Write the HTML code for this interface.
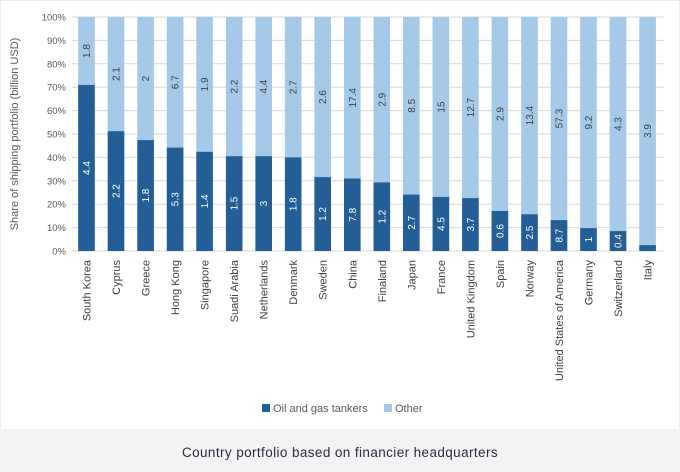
<!DOCTYPE html>
<html><head><meta charset="utf-8"><style>
html,body{margin:0;padding:0;background:#fff}
svg{display:block;font-family:"Liberation Sans",sans-serif}
</style></head><body>
<svg width="680" height="472" viewBox="0 0 680 472" xmlns="http://www.w3.org/2000/svg">
<rect x="0" y="0" width="680" height="472" fill="#fff"/>
<rect x="0.5" y="0.5" width="679" height="471" fill="none" stroke="#ececec"/>
<rect x="0" y="429" width="680" height="43" fill="#f3f3f3"/>
<g stroke="#d9d9d9" stroke-width="1">
<line x1="72" x2="664" y1="17" y2="17"/><line x1="72" x2="664" y1="40.4" y2="40.4"/><line x1="72" x2="664" y1="63.8" y2="63.8"/><line x1="72" x2="664" y1="87.2" y2="87.2"/><line x1="72" x2="664" y1="110.6" y2="110.6"/><line x1="72" x2="664" y1="134" y2="134"/><line x1="72" x2="664" y1="157.4" y2="157.4"/><line x1="72" x2="664" y1="180.8" y2="180.8"/><line x1="72" x2="664" y1="204.2" y2="204.2"/><line x1="72" x2="664" y1="227.6" y2="227.6"/><line x1="72" x2="664" y1="251" y2="251"/>
</g>
<g font-size="9.5" fill="#595959" text-anchor="end">
<text x="66" y="20.5">100%</text><text x="66" y="43.9">90%</text><text x="66" y="67.3">80%</text><text x="66" y="90.7">70%</text><text x="66" y="114.1">60%</text><text x="66" y="137.5">50%</text><text x="66" y="160.9">40%</text><text x="66" y="184.3">30%</text><text x="66" y="207.7">20%</text><text x="66" y="231.1">10%</text><text x="66" y="254.5">0%</text>
</g>
<g fill="#a5c9e9">
<rect x="78.2" y="17" width="16.6" height="234"/><rect x="107.7" y="17" width="16.6" height="234"/><rect x="137.3" y="17" width="16.6" height="234"/><rect x="166.8" y="17" width="16.6" height="234"/><rect x="196.3" y="17" width="16.6" height="234"/><rect x="225.9" y="17" width="16.6" height="234"/><rect x="255.4" y="17" width="16.6" height="234"/><rect x="284.9" y="17" width="16.6" height="234"/><rect x="314.4" y="17" width="16.6" height="234"/><rect x="344" y="17" width="16.6" height="234"/><rect x="373.5" y="17" width="16.6" height="234"/><rect x="403" y="17" width="16.6" height="234"/><rect x="432.6" y="17" width="16.6" height="234"/><rect x="462.1" y="17" width="16.6" height="234"/><rect x="491.6" y="17" width="16.6" height="234"/><rect x="521.2" y="17" width="16.6" height="234"/><rect x="550.7" y="17" width="16.6" height="234"/><rect x="580.2" y="17" width="16.6" height="234"/><rect x="609.7" y="17" width="16.6" height="234"/><rect x="639.3" y="17" width="16.6" height="234"/>
</g>
<g fill="#235f96">
<rect x="78.2" y="84.9" width="16.6" height="166.1"/><rect x="107.7" y="131.2" width="16.6" height="119.8"/><rect x="137.3" y="140.1" width="16.6" height="110.9"/><rect x="166.8" y="147.6" width="16.6" height="103.4"/><rect x="196.3" y="151.8" width="16.6" height="99.2"/><rect x="225.9" y="156.2" width="16.6" height="94.8"/><rect x="255.4" y="156.2" width="16.6" height="94.8"/><rect x="284.9" y="157.4" width="16.6" height="93.6"/><rect x="314.4" y="177.1" width="16.6" height="73.9"/><rect x="344" y="178.5" width="16.6" height="72.5"/><rect x="373.5" y="182.4" width="16.6" height="68.6"/><rect x="403" y="194.6" width="16.6" height="56.4"/><rect x="432.6" y="196.9" width="16.6" height="54.1"/><rect x="462.1" y="198.1" width="16.6" height="52.9"/><rect x="491.6" y="211" width="16.6" height="40"/><rect x="521.2" y="214.3" width="16.6" height="36.7"/><rect x="550.7" y="220.1" width="16.6" height="30.9"/><rect x="580.2" y="228.1" width="16.6" height="22.9"/><rect x="609.7" y="231.1" width="16.6" height="19.9"/><rect x="639.3" y="245.1" width="16.6" height="5.9"/>
</g>
<g font-size="10" fill="#404040" text-anchor="middle">
<text transform="translate(90,51) rotate(-90)">1.8</text>
<text transform="translate(119.5,74.1) rotate(-90)">2.1</text>
<text transform="translate(149.1,78.6) rotate(-90)">2</text>
<text transform="translate(178.6,82.3) rotate(-90)">6.7</text>
<text transform="translate(208.1,84.4) rotate(-90)">1.9</text>
<text transform="translate(237.7,86.6) rotate(-90)">2.2</text>
<text transform="translate(267.2,86.6) rotate(-90)">4.4</text>
<text transform="translate(296.7,87.2) rotate(-90)">2.7</text>
<text transform="translate(326.2,97) rotate(-90)">2.6</text>
<text transform="translate(355.8,97.8) rotate(-90)">17.4</text>
<text transform="translate(385.3,99.7) rotate(-90)">2.9</text>
<text transform="translate(414.8,105.8) rotate(-90)">8.5</text>
<text transform="translate(444.4,107) rotate(-90)">15</text>
<text transform="translate(473.9,107.6) rotate(-90)">12.7</text>
<text transform="translate(503.4,114) rotate(-90)">2.9</text>
<text transform="translate(533,115.6) rotate(-90)">13.4</text>
<text transform="translate(562.5,118.6) rotate(-90)">57.3</text>
<text transform="translate(592,122.6) rotate(-90)">9.2</text>
<text transform="translate(621.5,124) rotate(-90)">4.3</text>
<text transform="translate(651.1,131) rotate(-90)">3.9</text>
</g>
<g font-size="10" fill="#fff" text-anchor="middle">
<text transform="translate(90,168) rotate(-90)">4.4</text>
<text transform="translate(119.5,191.1) rotate(-90)">2.2</text>
<text transform="translate(149.1,195.6) rotate(-90)">1.8</text>
<text transform="translate(178.6,199.3) rotate(-90)">5.3</text>
<text transform="translate(208.1,201.4) rotate(-90)">1.4</text>
<text transform="translate(237.7,203.6) rotate(-90)">1.5</text>
<text transform="translate(267.2,203.6) rotate(-90)">3</text>
<text transform="translate(296.7,204.2) rotate(-90)">1.8</text>
<text transform="translate(326.2,214) rotate(-90)">1.2</text>
<text transform="translate(355.8,214.8) rotate(-90)">7.8</text>
<text transform="translate(385.3,216.7) rotate(-90)">1.2</text>
<text transform="translate(414.8,222.8) rotate(-90)">2.7</text>
<text transform="translate(444.4,224) rotate(-90)">4.5</text>
<text transform="translate(473.9,224.6) rotate(-90)">3.7</text>
<text transform="translate(503.4,231) rotate(-90)">0.6</text>
<text transform="translate(533,232.6) rotate(-90)">2.5</text>
<text transform="translate(562.5,235.6) rotate(-90)">8.7</text>
<text transform="translate(592,239.6) rotate(-90)">1</text>
<text transform="translate(621.5,241) rotate(-90)">0.4</text>
</g>
<g font-size="11" fill="#404040" text-anchor="end">
<text transform="translate(90.5,260) rotate(-90)">South Korea</text>
<text transform="translate(120,260) rotate(-90)">Cyprus</text>
<text transform="translate(149.6,260) rotate(-90)">Greece</text>
<text transform="translate(179.1,260) rotate(-90)">Hong Kong</text>
<text transform="translate(208.6,260) rotate(-90)">Singapore</text>
<text transform="translate(238.2,260) rotate(-90)">Suadi Arabia</text>
<text transform="translate(267.7,260) rotate(-90)">Netherlands</text>
<text transform="translate(297.2,260) rotate(-90)">Denmark</text>
<text transform="translate(326.7,260) rotate(-90)">Sweden</text>
<text transform="translate(356.3,260) rotate(-90)">China</text>
<text transform="translate(385.8,260) rotate(-90)">Finaland</text>
<text transform="translate(415.3,260) rotate(-90)">Japan</text>
<text transform="translate(444.9,260) rotate(-90)">France</text>
<text transform="translate(474.4,260) rotate(-90)">United Kingdom</text>
<text transform="translate(503.9,260) rotate(-90)">Spain</text>
<text transform="translate(533.5,260) rotate(-90)">Norway</text>
<text transform="translate(563,260) rotate(-90)">United States of America</text>
<text transform="translate(592.5,260) rotate(-90)">Germany</text>
<text transform="translate(622,260) rotate(-90)">Switzerland</text>
<text transform="translate(651.6,260) rotate(-90)">Italy</text>
</g>
<text transform="translate(18,134) rotate(-90)" font-size="11" fill="#595959" text-anchor="middle">Share of shipping portfolio (billion USD)</text>
<rect x="262" y="404" width="8" height="8" fill="#235f96"/>
<text x="273" y="412" font-size="11" fill="#595959">Oil and gas tankers</text>
<rect x="384" y="404" width="8" height="8" fill="#a5c9e9"/>
<text x="395" y="412" font-size="11" fill="#595959">Other</text>
<text x="340" y="457" font-size="13.5" fill="#2e2a40" text-anchor="middle" letter-spacing="0.4">Country portfolio based on financier headquarters</text>
</svg>
</body></html>
